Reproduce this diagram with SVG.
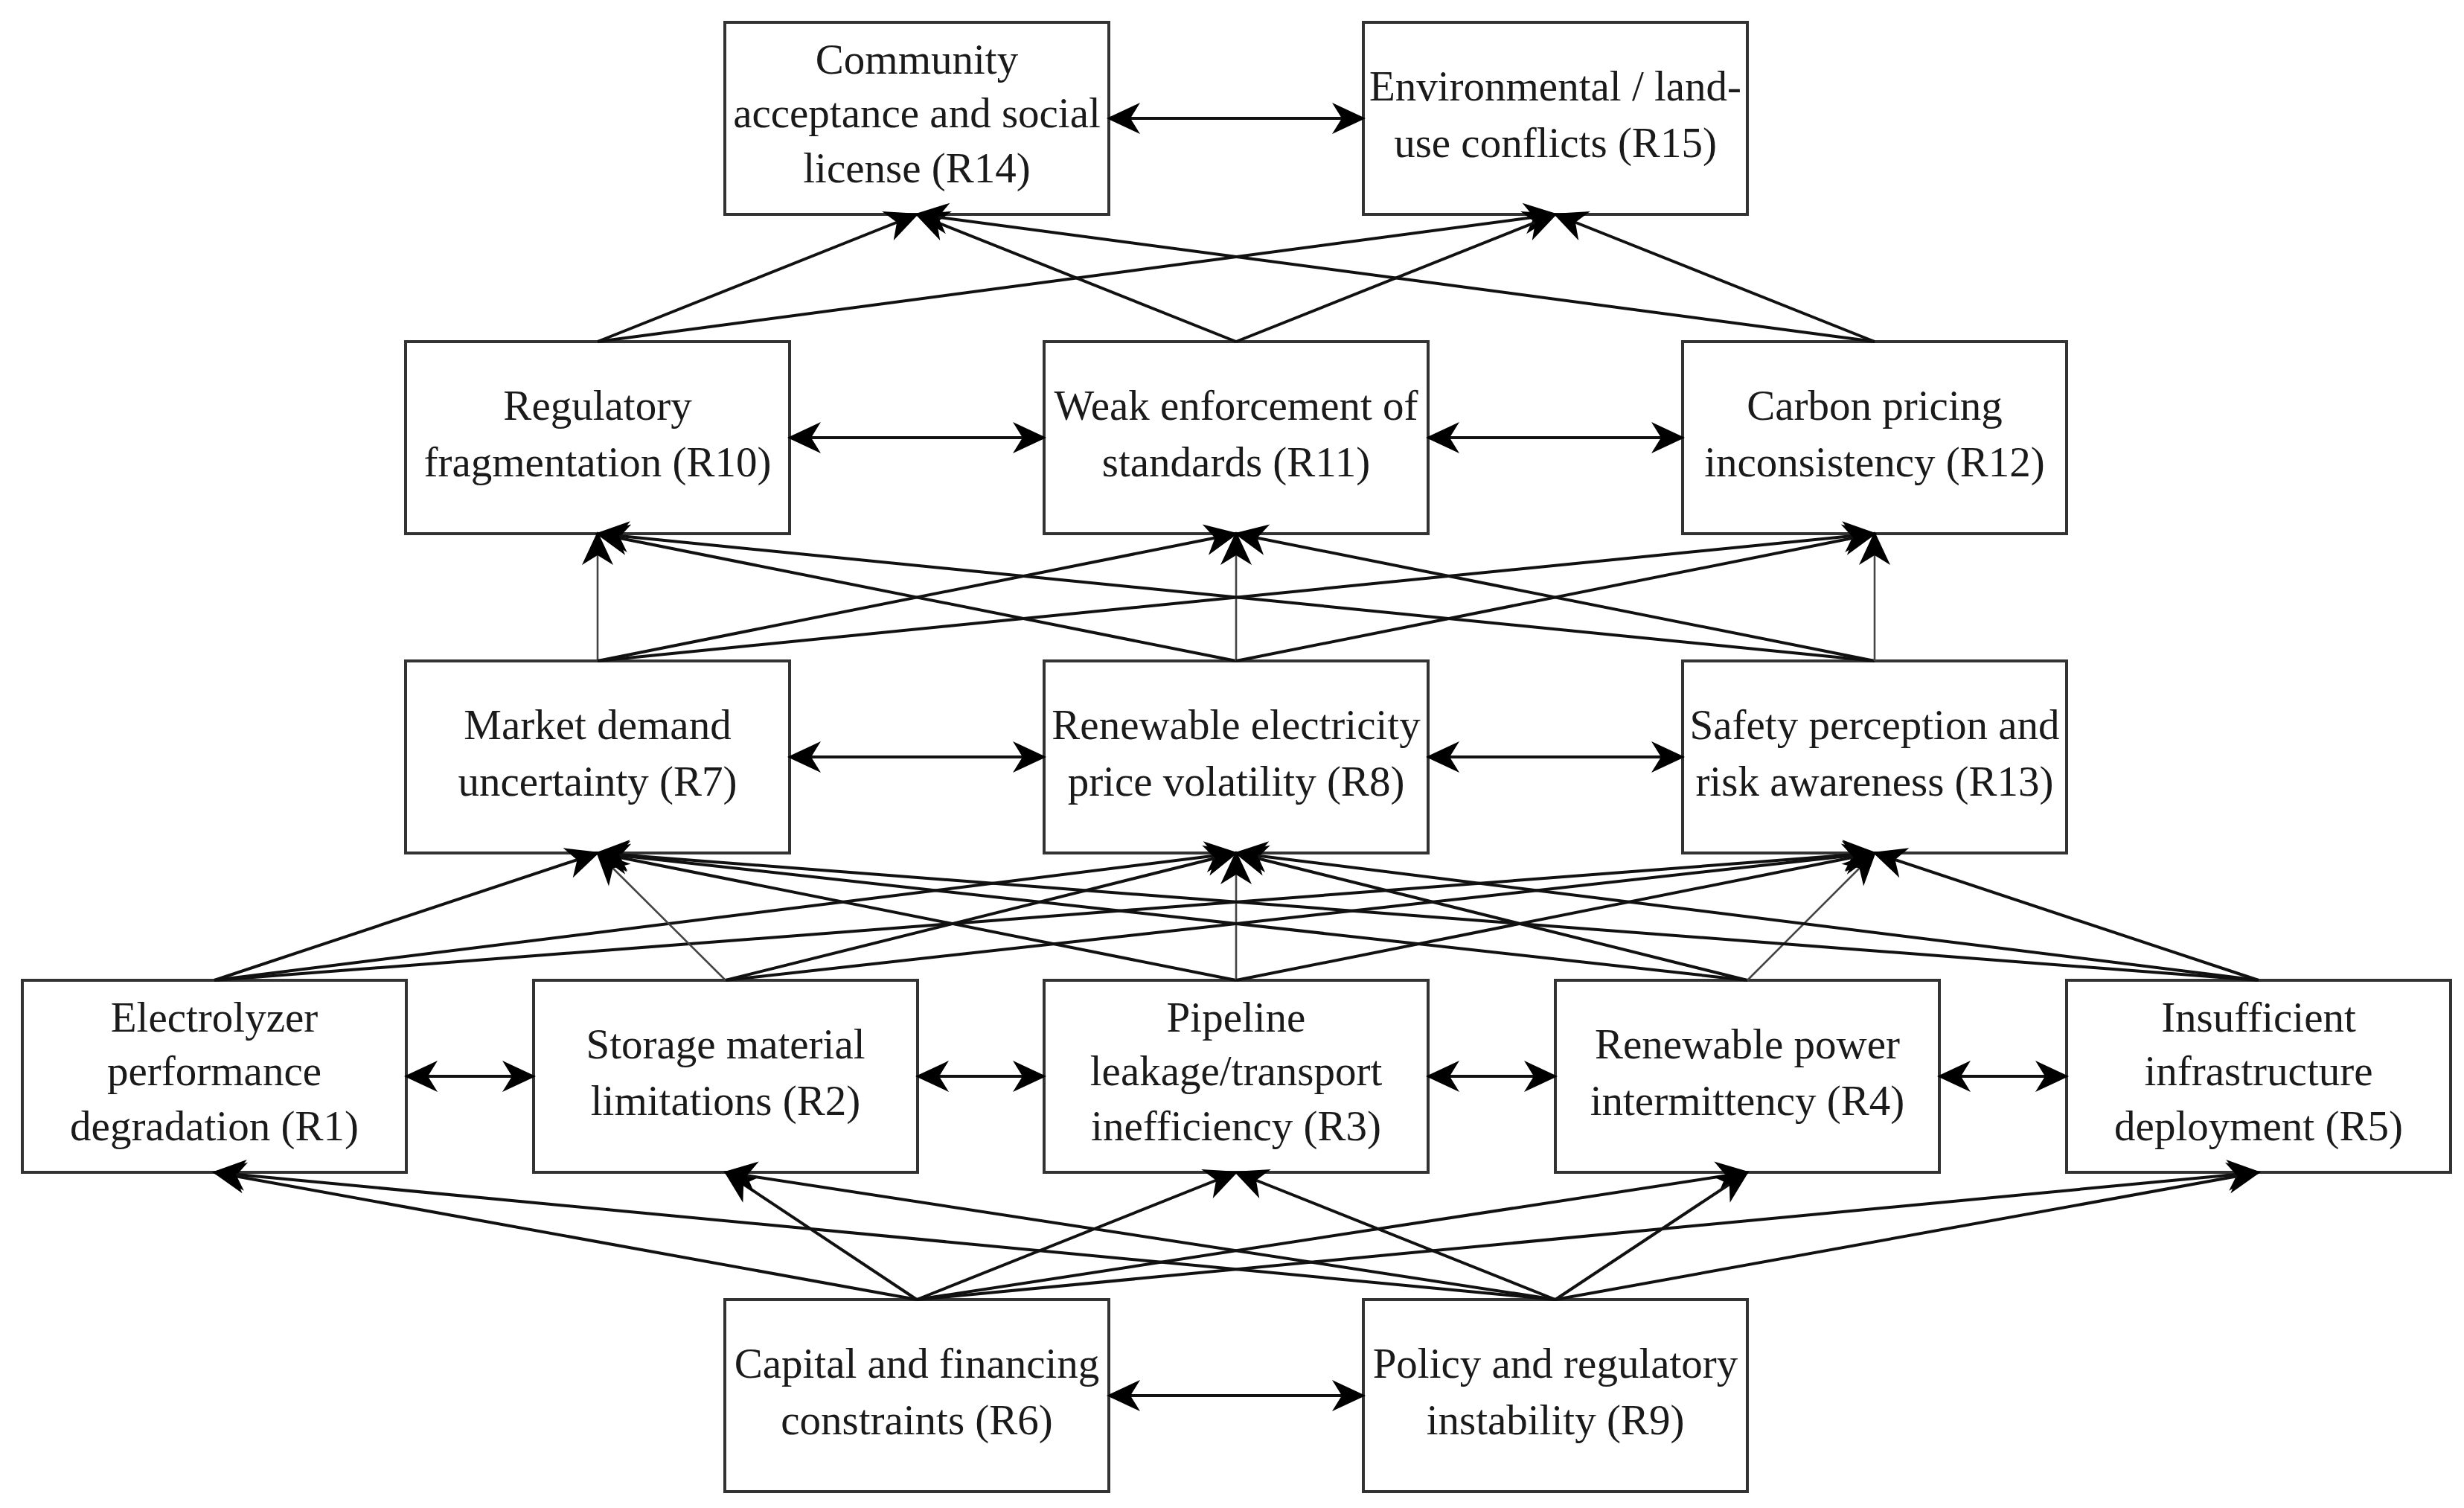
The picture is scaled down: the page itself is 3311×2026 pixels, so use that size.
<svg xmlns="http://www.w3.org/2000/svg" width="3311" height="2026" viewBox="0 0 3311 2026">
<style>
.box{fill:#fff;stroke:#333;stroke-width:4}
.lbl{font-family:"Liberation Serif","Times New Roman",serif;font-size:57px;fill:#1a1a1a;text-anchor:middle}
.c line{stroke:#111;stroke-width:4;fill:none}
.c line.thin{stroke:#444;stroke-width:2.6}
.c line.d{marker-end:url(#ah)}
.c line.b{marker-start:url(#ah);marker-end:url(#ah)}
</style>
<defs>
<marker id="ah" markerUnits="userSpaceOnUse" viewBox="-48 -24 52 48" markerWidth="52" markerHeight="48" refX="-3" refY="0" orient="auto-start-reverse">
<path d="M0,0 L-45,-21 L-32,0 L-45,21 Z" fill="#000"/>
</marker>
</defs>
<rect width="3311" height="2026" fill="#fff"/>

<g id="R14"><rect class="box" x="974" y="30" width="516" height="258"/><text class="lbl" x="1232"><tspan x="1232" y="99">Community</tspan><tspan x="1232" y="171">acceptance and social</tspan><tspan x="1232" y="245">license (R14)</tspan></text></g>
<g id="R15"><rect class="box" x="1832" y="30" width="516" height="258"/><text class="lbl"><tspan x="2090" y="135">Environmental / land-</tspan><tspan x="2090" y="211">use conflicts (R15)</tspan></text></g>

<g id="R10"><rect class="box" x="545" y="459" width="516" height="258"/><text class="lbl"><tspan x="803" y="564">Regulatory</tspan><tspan x="803" y="640">fragmentation (R10)</tspan></text></g>
<g id="R11"><rect class="box" x="1403" y="459" width="516" height="258"/><text class="lbl"><tspan x="1661" y="564">Weak enforcement of</tspan><tspan x="1661" y="640">standards (R11)</tspan></text></g>
<g id="R12"><rect class="box" x="2261" y="459" width="516" height="258"/><text class="lbl"><tspan x="2519" y="564">Carbon pricing</tspan><tspan x="2519" y="640">inconsistency (R12)</tspan></text></g>

<g id="R7"><rect class="box" x="545" y="888" width="516" height="258"/><text class="lbl"><tspan x="803" y="993">Market demand</tspan><tspan x="803" y="1069">uncertainty (R7)</tspan></text></g>
<g id="R8"><rect class="box" x="1403" y="888" width="516" height="258"/><text class="lbl"><tspan x="1661" y="993">Renewable electricity</tspan><tspan x="1661" y="1069">price volatility (R8)</tspan></text></g>
<g id="R13"><rect class="box" x="2261" y="888" width="516" height="258"/><text class="lbl"><tspan x="2519" y="993">Safety perception and</tspan><tspan x="2519" y="1069">risk awareness (R13)</tspan></text></g>

<g id="R1"><rect class="box" x="30" y="1317" width="516" height="258"/><text class="lbl"><tspan x="288" y="1386">Electrolyzer</tspan><tspan x="288" y="1458">performance</tspan><tspan x="288" y="1532">degradation (R1)</tspan></text></g>
<g id="R2"><rect class="box" x="717" y="1317" width="516" height="258"/><text class="lbl"><tspan x="975" y="1422">Storage material</tspan><tspan x="975" y="1498">limitations (R2)</tspan></text></g>
<g id="R3"><rect class="box" x="1403" y="1317" width="516" height="258"/><text class="lbl"><tspan x="1661" y="1386">Pipeline</tspan><tspan x="1661" y="1458">leakage/transport</tspan><tspan x="1661" y="1532">inefficiency (R3)</tspan></text></g>
<g id="R4"><rect class="box" x="2090" y="1317" width="516" height="258"/><text class="lbl"><tspan x="2348" y="1422">Renewable power</tspan><tspan x="2348" y="1498">intermittency (R4)</tspan></text></g>
<g id="R5"><rect class="box" x="2777" y="1317" width="516" height="258"/><text class="lbl"><tspan x="3035" y="1386">Insufficient</tspan><tspan x="3035" y="1458">infrastructure</tspan><tspan x="3035" y="1532">deployment (R5)</tspan></text></g>

<g id="R6"><rect class="box" x="974" y="1746" width="516" height="258"/><text class="lbl"><tspan x="1232" y="1851">Capital and financing</tspan><tspan x="1232" y="1927">constraints (R6)</tspan></text></g>
<g id="R9"><rect class="box" x="1832" y="1746" width="516" height="258"/><text class="lbl"><tspan x="2090" y="1851">Policy and regulatory</tspan><tspan x="2090" y="1927">instability (R9)</tspan></text></g>

<g id="connectors" class="c">
<line class="b" x1="1490" y1="159" x2="1832" y2="159"/>
<line class="b" x1="1061" y1="588" x2="1403" y2="588"/>
<line class="b" x1="1919" y1="588" x2="2261" y2="588"/>
<line class="b" x1="1061" y1="1017" x2="1403" y2="1017"/>
<line class="b" x1="1919" y1="1017" x2="2261" y2="1017"/>
<line class="b" x1="546" y1="1446" x2="717" y2="1446"/>
<line class="b" x1="1233" y1="1446" x2="1403" y2="1446"/>
<line class="b" x1="1919" y1="1446" x2="2090" y2="1446"/>
<line class="b" x1="2606" y1="1446" x2="2777" y2="1446"/>
<line class="b" x1="1490" y1="1875" x2="1832" y2="1875"/>

<line class="d" x1="803" y1="459" x2="1232" y2="288"/>
<line class="d" x1="803" y1="459" x2="2090" y2="288"/>
<line class="d" x1="1661" y1="459" x2="1232" y2="288"/>
<line class="d" x1="1661" y1="459" x2="2090" y2="288"/>
<line class="d" x1="2519" y1="459" x2="1232" y2="288"/>
<line class="d" x1="2519" y1="459" x2="2090" y2="288"/>

<line class="d thin" x1="803" y1="888" x2="803" y2="717"/>
<line class="d" x1="803" y1="888" x2="1661" y2="717"/>
<line class="d" x1="803" y1="888" x2="2519" y2="717"/>
<line class="d" x1="1661" y1="888" x2="803" y2="717"/>
<line class="d thin" x1="1661" y1="888" x2="1661" y2="717"/>
<line class="d" x1="1661" y1="888" x2="2519" y2="717"/>
<line class="d" x1="2519" y1="888" x2="803" y2="717"/>
<line class="d" x1="2519" y1="888" x2="1661" y2="717"/>
<line class="d thin" x1="2519" y1="888" x2="2519" y2="717"/>

<line class="d" x1="288" y1="1317" x2="803" y2="1146"/>
<line class="d" x1="288" y1="1317" x2="1661" y2="1146"/>
<line class="d" x1="288" y1="1317" x2="2519" y2="1146"/>
<line class="d thin" x1="975" y1="1317" x2="803" y2="1146"/>
<line class="d" x1="975" y1="1317" x2="1661" y2="1146"/>
<line class="d" x1="975" y1="1317" x2="2519" y2="1146"/>
<line class="d" x1="1661" y1="1317" x2="803" y2="1146"/>
<line class="d thin" x1="1661" y1="1317" x2="1661" y2="1146"/>
<line class="d" x1="1661" y1="1317" x2="2519" y2="1146"/>
<line class="d" x1="2348" y1="1317" x2="803" y2="1146"/>
<line class="d" x1="2348" y1="1317" x2="1661" y2="1146"/>
<line class="d thin" x1="2348" y1="1317" x2="2519" y2="1146"/>
<line class="d" x1="3035" y1="1317" x2="803" y2="1146"/>
<line class="d" x1="3035" y1="1317" x2="1661" y2="1146"/>
<line class="d" x1="3035" y1="1317" x2="2519" y2="1146"/>

<line class="d" x1="1232" y1="1746" x2="288" y2="1575"/>
<line class="d" x1="1232" y1="1746" x2="975" y2="1575"/>
<line class="d" x1="1232" y1="1746" x2="1661" y2="1575"/>
<line class="d" x1="1232" y1="1746" x2="2348" y2="1575"/>
<line class="d" x1="1232" y1="1746" x2="3035" y2="1575"/>
<line class="d" x1="2090" y1="1746" x2="288" y2="1575"/>
<line class="d" x1="2090" y1="1746" x2="975" y2="1575"/>
<line class="d" x1="2090" y1="1746" x2="1661" y2="1575"/>
<line class="d" x1="2090" y1="1746" x2="2348" y2="1575"/>
<line class="d" x1="2090" y1="1746" x2="3035" y2="1575"/>
</g>
</svg>
